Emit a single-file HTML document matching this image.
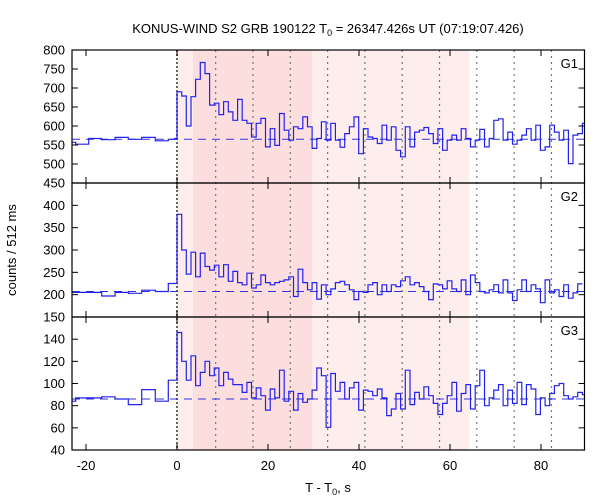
<!DOCTYPE html>
<html><head><meta charset="utf-8">
<style>
body{margin:0;background:#fff;}
svg{display:block;font-family:"Liberation Sans","DejaVu Sans",sans-serif;}
</style></head>
<body>
<svg id="chart" width="600" height="500" viewBox="0 0 600 500">
<text x="328" y="33" text-anchor="middle" font-size="13">KONUS-WIND S2 GRB 190122 T<tspan font-size="9" dy="3">0</tspan><tspan dy="-3"> = 26347.426s UT (07:19:07.426)</tspan></text>
<text x="328" y="492" text-anchor="middle" font-size="13">T - T<tspan font-size="9" dy="3">0</tspan><tspan dy="-3">, s</tspan></text>
<text transform="translate(16,250) rotate(-90)" text-anchor="middle" font-size="13">counts / 512 ms</text>
</svg>
<script>
// ---- data ----
const preEdges = [-23.0,-22.26,-19.4,-16.55,-13.6,-10.7,-7.76,-4.77,-1.91,-0.5,0];
const binWidth = 1.024;
const g1Pre = [557,552,567,564,570,565,570,561,565,567];
const g1Post = [690,679,600,677,723,767,738,655,660,630,664,637,615,670,615,607,571,607,620,545,593,549,633,589,563,598,593,624,598,541,567,611,563,607,563,
544,580,598,624,527,593,571,567,554,602,563,598,536,519,598,545,584,589,596,580,554,593,536,563,576,563,593,567,545,563,591,545,567,615,619,563,584,552,563,576,593,563,602,536,545,602,584,563,589,501,576,580,607];
const g2Pre = [205,205,205,197,205,203,210,207,225,225];
const g2Post = [380,300,246,295,240,293,263,255,266,240,267,230,252,227,222,248,215,222,244,227,222,227,230,233,240,196,257,227,211,227,190,222,200,213,227,
230,222,211,189,207,205,222,227,200,222,207,222,218,231,240,222,227,218,207,189,224,222,213,231,213,207,233,200,244,227,207,204,211,222,204,233,204,187,211,233,207,222,213,182,233,204,211,196,222,192,204,224];
const g3Pre = [84,87,87,88,86,81,94.5,84,103,103];
const g3Post = [146,120,103,125,98,110,120,107,114,98,110,104,99,99,92,101,87,96,89,76,95,87,112,84,93,76,91,83,86,94,114,107,60.5,109,93,
101,86,96,101,76,94,93,89,95,87,71,77,91,77,112,81,92,86,97,89,82,72,82,89,101,75,91,99,77,98,112,80,87,94,99,80,94,82,101,81,99,95,72,87,80,91,98,100,89,86,88,92,90];
const backgrounds = [565,207,86];
const panelNames = ["G1","G2","G3"];
const yDomains = [[450,800],[150,450],[40,160]];
const yTicks1 = [450,500,550,600,650,700,750,800];
const yTicks2 = [150,200,250,300,350,400];
const yTicks3 = [40,60,80,100,120,140];
const xTicks = [-20,0,20,40,60,80];
const intervalDark = [3.5,29.7];
const intervalLight = [0,64.3];
const dotLines = [8.5,16.7,24.9,33.1,41.3,49.5,57.7,65.9,74.1,82.3];

// ---- layout ----
const L=72, R=584.5, X0=177, PXS=4.55;
const panels=[[50,183],[183,317],[317,450]];
const x = t => X0 + t*PXS;
const NS="http://www.w3.org/2000/svg";
const svg=document.getElementById('chart');
function mk(tag, attrs, parent){const e=document.createElementNS(NS,tag);for(const k in attrs)e.setAttribute(k,attrs[k]);(parent||svg).appendChild(e);return e;}

// shading
let e=mk('rect',{x:x(intervalLight[0]),y:50,width:x(intervalLight[1])-x(intervalLight[0]),height:400,fill:'#fdeded'});


e=mk('rect',{x:x(intervalDark[0]),y:50,width:x(intervalDark[1])-x(intervalDark[0]),height:400,fill:'#fcdede'});



// dotted lines
dotLines.forEach(t=>{
  const l=mk('line',{x1:x(t),x2:x(t),y1:50,y2:450,stroke:'#777','stroke-width':1.2,'stroke-dasharray':'2,4'});
  
  
});
e=mk('line',{x1:x(0),x2:x(0),y1:50,y2:450,stroke:'#555','stroke-width':1.8,'stroke-dasharray':'2,2'});



const pres=[g1Pre,g2Pre,g3Pre], posts=[g1Post,g2Post,g3Post], ticksArr=[yTicks1,yTicks2,yTicks3];
panels.forEach((p,i)=>{
  const [top,bot]=p, [d0,d1]=yDomains[i];
  const y=v=> bot-(v-d0)/(d1-d0)*(bot-top);
  const g=mk('g',{});
  
  
  // background dashed
  const bl=mk('line',{x1:L,x2:R,y1:y(backgrounds[i]),y2:y(backgrounds[i]),stroke:'#3333dd','stroke-width':1,'stroke-dasharray':'8,6'},g);
  
  
  // histogram
  let d='', first=true;
  const pre=pres[i];
  for(let k=0;k<pre.length;k++){
    const xa=x(preEdges[k]), xb=x(preEdges[k+1]), yy=y(pre[k]);
    d+=(first?'M':'L')+xa.toFixed(1)+','+yy.toFixed(1)+'L'+xb.toFixed(1)+','+yy.toFixed(1);first=false;
  }
  posts[i].forEach((v,k)=>{
    const xa=x(k*binWidth), xb=Math.min(R,x((k+1)*binWidth)), yy=y(v);
    d+='L'+xa.toFixed(1)+','+yy.toFixed(1)+'L'+xb.toFixed(1)+','+yy.toFixed(1);
  });
  const path=mk('path',{d:d,fill:'none',stroke:'#2222ee','stroke-width':1.2},g);
  
  
  // frame
  const fr=mk('rect',{x:L,y:top,width:R-L,height:bot-top,fill:'none',stroke:'#000','stroke-width':1.2},g);
  
  
  // y ticks
  ticksArr[i].forEach(v=>{
    const yy=y(v);
    mk('line',{x1:L,x2:L+6,y1:yy,y2:yy,stroke:'#000'},g);
    mk('line',{x1:R-6,x2:R,y1:yy,y2:yy,stroke:'#000'},g);
    const t=mk('text',{x:L-7,y:yy+4.5,'text-anchor':'end','font-size':13},g);
    t.textContent=v;
    
    
  });
  // x ticks
  xTicks.forEach(v=>{
    const xx=x(v);
    mk('line',{x1:xx,x2:xx,y1:top,y2:top+6,stroke:'#000'},g);
    mk('line',{x1:xx,x2:xx,y1:bot-6,y2:bot,stroke:'#000'},g);
  });
  const lab=mk('text',{x:578,y:top+18,'text-anchor':'end','font-size':13},g);
  lab.textContent=panelNames[i];
  
  
});
xTicks.forEach(v=>{
  const t=mk('text',{x:x(v),y:470,'text-anchor':'middle','font-size':13});
  t.textContent=v;
  
  
});
</script>
</body></html>
